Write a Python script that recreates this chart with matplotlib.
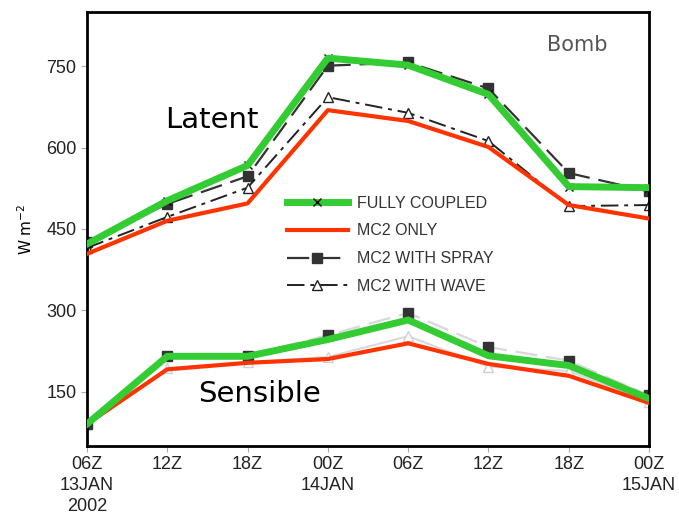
import numpy as np
import matplotlib.pyplot as plt
from matplotlib.lines import Line2D

##                          Dados                           ##
times = ['06Z\n13JAN\n2002', '12Z', '18Z', '00Z\n14JAN', '06Z', '12Z', '18Z', '00Z\n15JAN']

lat_coupled = [422, 502, 567, 765, 752, 698, 528, 526]
lat_mc2     = [404, 465, 497, 669, 649, 601, 494, 469]
lat_spray   = [426, 496, 547, 751, 757, 709, 553, 519]
lat_wave    = [415, 472, 526, 693, 664, 612, 492, 494]

sen_coupled = [90, 215, 215, 246, 282, 216, 198, 137]
sen_mc2     = [90, 191, 203, 210, 239, 201, 179, 129]
sen_spray   = [90, 216, 216, 254, 295, 232, 207, 143]
sen_wave    = [90, 193, 204, 214, 252, 196, 188, 130]

yticks = [150, 300, 450, 600, 750]

x = np.arange(len(times))
font = ['Liberation Sans', 'DejaVu Sans']

fig = plt.figure(figsize=(6.79, 5.22), dpi=100)
ax = fig.add_axes([0.128, 0.146, 0.828, 0.831])

##                     Curvas - calor latente               ##
ax.plot(x, lat_spray, color='#333333', lw=1.6, dashes=(10, 4), marker='s', ms=7, zorder=2)
ax.plot(x, lat_wave, color='#222222', lw=1.4, dashes=(9, 3, 2, 3), marker='^',
        ms=7, mfc='white', mec='#222222', zorder=2)
ax.plot(x, lat_coupled, color='black', lw=0, marker='x', ms=6, zorder=2)
ax.plot(x, lat_mc2, color='#ff3300', lw=3, zorder=3)
ax.plot(x, lat_coupled, color='#33cc33', lw=5, zorder=4)

##                     Curvas - calor sensível              ##
ax.plot(x, sen_wave, color='#d8d8d8', lw=1.4, marker='^', ms=7, mfc='white', mec='#d0d0d0', zorder=2)
ax.plot(x, sen_spray, color='#d8d8d8', lw=1.6, dashes=(10, 4), zorder=2)
ax.plot(x, sen_spray, lw=0, marker='s', ms=7, color='#333333', zorder=2)
ax.plot(x, sen_mc2, color='#ff3300', lw=3, zorder=3)
ax.plot(x, sen_coupled, color='#33cc33', lw=5, zorder=4)

##                          Eixos                           ##
ax.set_xlim(0, 7)
ax.set_ylim(50, 850)
ax.set_yticks(yticks)
ax.set_yticklabels([str(v) for v in yticks], fontsize=13, family=font, color='#222222')
ax.set_xticks(x)
ax.set_xticklabels(times, fontsize=13, family=font, color='#222222', linespacing=1.3)
ax.tick_params(axis='x', length=4, color='#aaaaaa')
ax.tick_params(axis='y', length=4, color='#aaaaaa')
for s in ax.spines.values():
    s.set_linewidth(2)
ax.set_ylabel('W m$^{-2}$', fontsize=11, labelpad=8)

##                          Textos                          ##
ax.text(1.55, 650, 'Latent', fontsize=21, ha='center', va='center')
ax.text(2.15, 145, 'Sensible', fontsize=21, ha='center', va='center')
ax.text(6.11, 790, 'Bomb', fontsize=15, ha='center', va='center', color='#555555')

##                          Legenda                         ##
handles = [
    Line2D([], [], color='#33cc33', lw=5, marker='x', mec='black', ms=6),
    Line2D([], [], color='#ff3300', lw=3),
    Line2D([], [], color='#333333', lw=1.6, dashes=(10, 4), marker='s', ms=7),
    Line2D([], [], color='#222222', lw=1.4, dashes=(9, 3, 2, 3), marker='^', ms=7, mfc='white'),
]
labels = ['FULLY COUPLED', 'MC2 ONLY', 'MC2 WITH SPRAY', 'MC2 WITH WAVE']
ax.legend(handles, labels, loc='upper left', bbox_to_anchor=(0.33, 0.61), frameon=False,
          handlelength=3.8, handletextpad=0.6, labelspacing=0.8, markerfirst=True,
          prop={'family': font, 'size': 11.5}, labelcolor='#333333')

plt.savefig('out.png', dpi=100)
